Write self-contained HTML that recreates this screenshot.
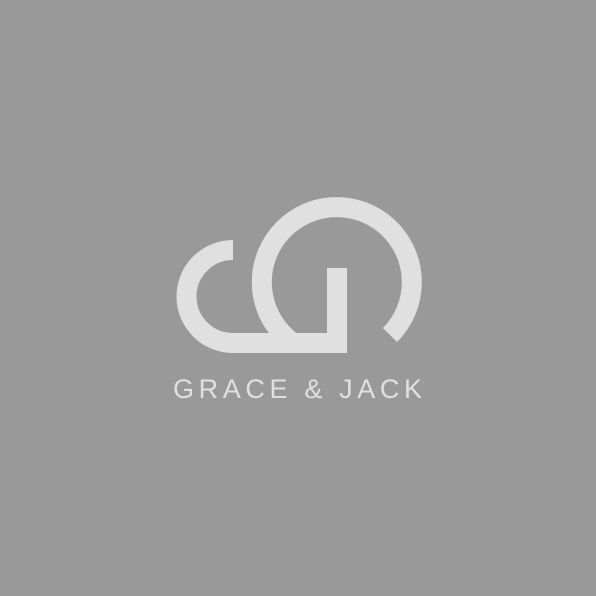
<!DOCTYPE html>
<html><head><meta charset="utf-8"><style>
html,body{margin:0;padding:0;background:#999999;}
svg{display:block;}
</style></head><body>
<svg width="596" height="596" viewBox="0 0 596 596">
<rect width="596" height="596" fill="#999999"/>
<g fill="none" stroke="#e0e0e0" stroke-width="20">
<path d="M233 250 A46.5 46.5 0 0 0 233 343 L337 343"/>
<path d="M337 268 L337 353"/>
<path d="M390 335 A75 75 0 1 0 293 343"/>
</g>
<text x="173" y="398" textLength="249" lengthAdjust="spacing" font-family="Liberation Sans, sans-serif" font-size="27" fill="#e0e0e0">GRACE &amp; JACK</text>
</svg>
</body></html>
